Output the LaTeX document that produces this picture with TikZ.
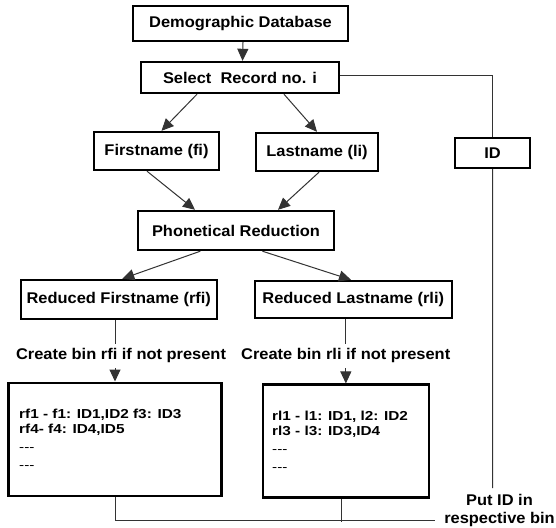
\documentclass[tikz,border=0pt]{standalone}
\usepackage{fontspec}
\setmainfont{Liberation Sans}
\newfontfamily\lblfont[FakeStretch=1.06]{Liberation Sans}
\newfontfamily\binfont[FakeStretch=1.18]{Liberation Sans}
\usetikzlibrary{arrows.meta}

\tikzset{
  box/.style={draw=black, line width=2.4pt, inner sep=0pt,
    font=\lblfont\bfseries\fontsize{15.5}{18}\selectfont},
  lbl/.style={inner sep=0pt, font=\lblfont\bfseries\fontsize{15.5}{18}\selectfont},
  bintxt/.style={inner sep=0pt, anchor=base west,
    font=\binfont\bfseries\fontsize{13}{15}\selectfont},
  link/.style={draw=black!80, line width=1pt},
  arr/.style={link, -{Triangle[length=12pt,width=11pt]}},
}

\begin{document}
\begin{tikzpicture}[x=1pt,y=-1pt]
\useasboundingbox[fill=white] (0,0) rectangle (556,527);

% main chain of boxes
\node[box, minimum width=215, minimum height=35] (db)  at (240.5,23.5) {Demographic Database};
\node[box, minimum width=198, minimum height=31] (sel) at (240,77.5) {Select\ \ Record no. i};
\node[box, minimum width=125, minimum height=38] (fn)  at (156.5,151) {Firstname (fi)};
\node[box, minimum width=122, minimum height=38] (ln)  at (317,152) {Lastname (li)};
\node[box, minimum width=75, minimum height=30]  (id)  at (492.5,153) {ID};
\node[box, minimum width=196, minimum height=39] (ph)  at (236,230.5) {Phonetical Reduction};
\node[box, minimum width=196, minimum height=39] (rfn) at (118.75,299.5) {Reduced Firstname (rfi)};
\node[box, minimum width=197, minimum height=37] (rln) at (353.25,299.5) {Reduced Lastname (rli)};

% bins
\node[box, minimum width=213, minimum height=113] (bin1) at (115,439.2) {};
\node[box, minimum width=166, minimum height=113] (bin2) at (345.85,441.15) {};

\node[bintxt] (b1a) at (19,418.5) {rf1 - f1: ID1,ID2 f3: ID3};
\node[bintxt] (b1b) at (19,433) {rf4- f4: ID4,ID5};
\node[bintxt] (b1c) at (19,451) {\mdseries -{}-{}-};
\node[bintxt] (b1d) at (19,469) {\mdseries -{}-{}-};

\node[bintxt] (b2a) at (272,420.5) {rl1 - l1: ID1, l2: ID2};
\node[bintxt] (b2b) at (272,435) {rl3 - l3: ID3,ID4};
\node[bintxt] (b2c) at (272,453) {\mdseries -{}-{}-};
\node[bintxt] (b2d) at (272,471) {\mdseries -{}-{}-};

% connector labels
\node[lbl, minimum height=24] (c1) at (121,355.8) {Create bin rfi if not present};
\node[lbl, minimum height=24] (c2) at (345.7,355.8) {Create bin rli if not present};
\node[lbl, align=center] (put) at (499.5,510) {Put ID in\\respective bin};

\coordinate (idend) at (492.7,488);
\coordinate (merge) at (435,520.7);

% connectors
\draw[arr] ([xshift=2.5pt]db.south) -- ([xshift=2.5pt]sel.north);
\draw[arr] ([xshift=-43pt]sel.south) -- ([xshift=5pt]fn.north);
\draw[arr] ([xshift=44pt]sel.south) -- (ln.north);
\draw[arr] ([xshift=-9.5pt]fn.south) -- ([xshift=-41pt]ph.north);
\draw[arr] ([xshift=2pt]ln.south) -- ([xshift=42pt]ph.north);
\draw[arr] ([xshift=-35.7pt]ph.south) -- ([xshift=3.5pt]rfn.north);
\draw[arr] ([xshift=26.4pt]ph.south) -- ([xshift=-2.25pt]rln.north);

\draw[link] ([yshift=2.5pt]sel.east) -| (id.north);
\draw[link] (id.south) -- (idend);

\draw[link] (rfn.south -| bin1.north) -- (c1.north -| bin1.north);
\draw[arr]  (c1.south -| bin1.north) -- (bin1.north);
\draw[link] (rln.south -| bin2.north) -- (c2.north -| bin2.north);
\draw[arr]  (c2.south -| bin2.north) -- (bin2.north);

\draw[link] (bin1.south) |- (merge);
\draw[link] ([xshift=-4pt]bin2.south) -- ([xshift=-4pt,yshift=-1.3pt]bin2.south |- merge);
\end{tikzpicture}
\end{document}
